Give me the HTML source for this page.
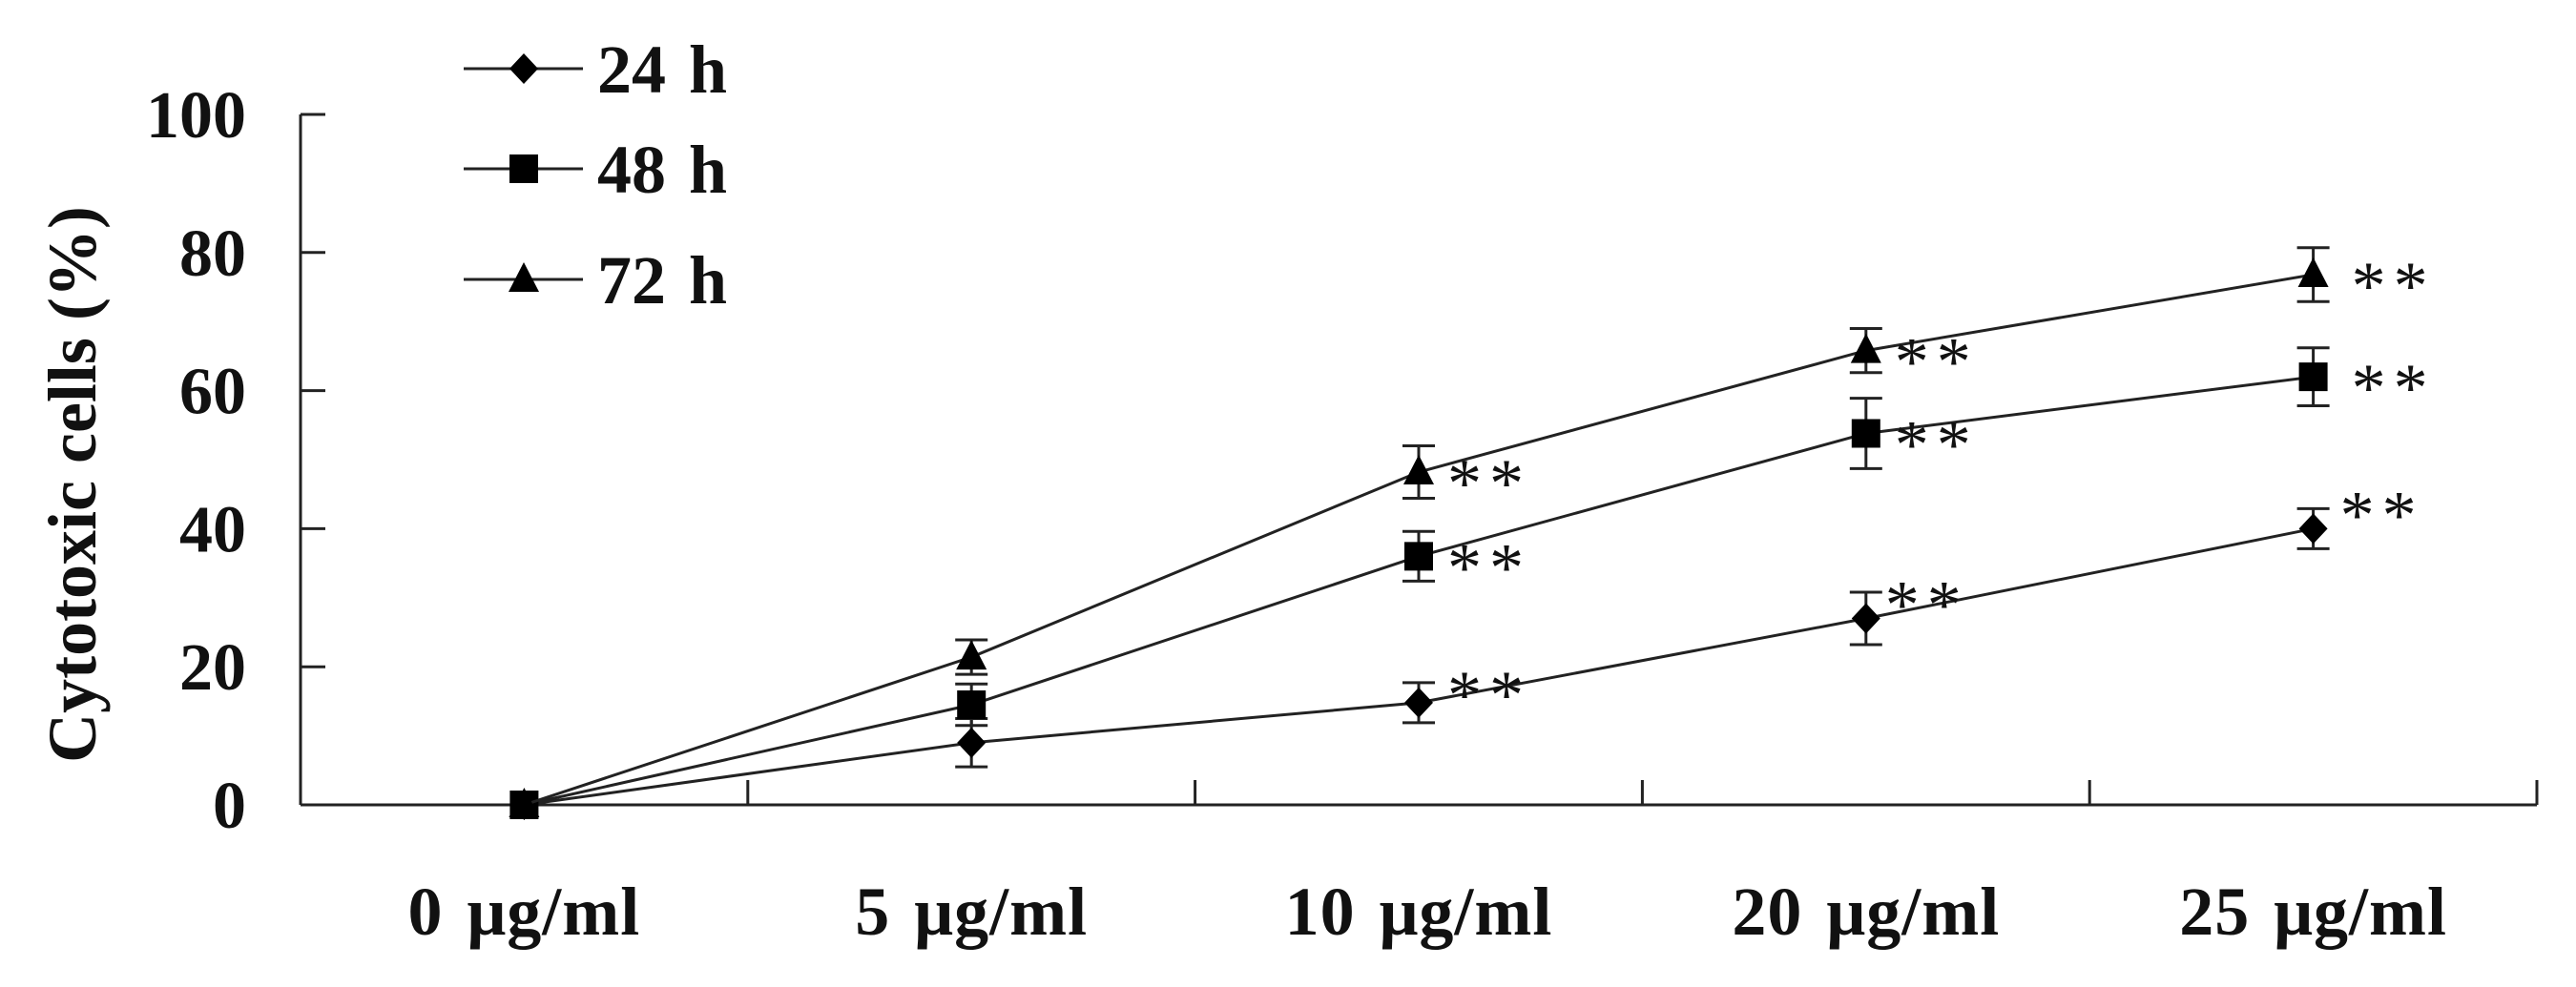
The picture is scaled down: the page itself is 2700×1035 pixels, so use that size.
<!DOCTYPE html>
<html><head><meta charset="utf-8"><style>
html,body{margin:0;padding:0;background:#fff;}
svg{display:block;}
text{font-family:"Liberation Serif",serif;fill:#111;}
</style></head><body>
<svg id="chart" width="2700" height="1035" viewBox="0 0 2700 1035">
<g id="axes"></g>
<g id="series"></g>
<g id="legend"></g>
<text transform="translate(100,508) rotate(-90)" text-anchor="middle" font-size="72" font-weight="bold">Cytotoxic cells (%)</text>
</svg>
<script>
const categories = ["0 μg/ml","5 μg/ml","10 μg/ml","20 μg/ml","25 μg/ml"];
const yTicks = [0,20,40,60,80,100];
const seriesNames = ["24 h","48 h","72 h"];
const v24 = [0,9,14.8,27,40];
const v48 = [0,14.5,36,53.8,62];
const v72 = [0,21.4,48.2,65.8,76.8];
const e24 = [0,3.5,2.9,3.8,2.9];
const e48 = [0,3,3.6,5.1,4.2];
const e72 = [0,2.5,3.8,3.2,3.9];
const sig24 = ["","","**","**","**"];
const sig48 = ["","","**","**","**"];
const sig72 = ["","","**","**","**"];

const NS="http://www.w3.org/2000/svg";
const X0=315,X1=2659,Y0=844,Y1=120;
const bw=(X1-X0)/categories.length;
function xs(i){return X0+bw*(i+0.5);}
function ys(v){return Y0-(v/100)*(Y0-Y1);}
function mk(tag,attrs,parent){const e=document.createElementNS(NS,tag);for(const k in attrs)e.setAttribute(k,attrs[k]);parent.appendChild(e);return e;}
const axes=document.getElementById('axes'),ser=document.getElementById('series'),leg=document.getElementById('legend');

let yl=mk('line',{x1:X0,y1:Y0,x2:X0,y2:Y1,stroke:'#222','stroke-width':3},axes);


let xl=mk('line',{x1:X0,y1:Y0,x2:X1,y2:Y0,stroke:'#222','stroke-width':3},axes);


yTicks.forEach(t=>{
  const y=ys(t);
  const l=mk('line',{x1:X0,y1:y,x2:X0+26,y2:y,stroke:'#222','stroke-width':3},axes);
  
  
  const tx=mk('text',{x:258,y:y+24,'text-anchor':'end','font-size':70,'font-weight':'bold'},axes);
  tx.textContent=t;
  
  
});
for(let i=1;i<=categories.length;i++){
  const x=X0+bw*i;
  const l=mk('line',{x1:x,y1:Y0,x2:x,y2:Y0-26,stroke:'#222','stroke-width':3},axes);
  
  
}
categories.forEach((c,i)=>{
  const tx=mk('text',{x:xs(i),y:980,'text-anchor':'middle','font-size':72,'font-weight':'bold','letter-spacing':1,'word-spacing':6},axes);
  tx.textContent=c;
  
  
});

function marker(type,x,y,parent){
  let m;
  if(type===0) m=mk('polygon',{points:`${x},${y-16} ${x+15},${y} ${x},${y+16} ${x-15},${y}`,fill:'#000'},parent);
  else if(type===1) m=mk('rect',{x:x-15,y:y-15,width:30,height:30,fill:'#000'},parent);
  else m=mk('polygon',{points:`${x},${y-18} ${x+16},${y+13} ${x-16},${y+13}`,fill:'#000'},parent);
  return m;
}
const allV=[v24,v48,v72],allE=[e24,e48,e72],allS=[sig24,sig48,sig72];
allV.forEach((vals,s)=>{
  const g=mk('g',{},ser);
  
  
  const pts=vals.map((v,i)=>xs(i)+','+ys(v)).join(' ');
  const pl=mk('polyline',{points:pts,fill:'none',stroke:'#222','stroke-width':3},g);
  
  
  vals.forEach((v,i)=>{
    const x=xs(i),e=allE[s][i];
    if(e>0){
      const ya=ys(v+e),yb=ys(v-e);
      const eb=mk('path',{d:`M${x},${ya}V${yb}M${x-17},${ya}H${x+17}M${x-17},${yb}H${x+17}`,stroke:'#222','stroke-width':3,fill:'none'},g);
      
      
    }
    const m=marker(s,x,ys(v),g);
    
    
    if(allS[s][i]){
      const up=(s===0&&i>=2)?(i===2?-22:-28):-2;
      const dx=(s===0&&i===3)?20:(s===0&&i===4?28:(i===4?40:30));
      const t=mk('text',{x:x+dx,y:ys(v)+up+38,'font-size':72,'letter-spacing':8,fill:'#333'},g);
      t.textContent=allS[s][i];
      
      
    }
  });
});
const legY=[72,177,293];
seriesNames.forEach((n,s)=>{
  const g=mk('g',{},leg);
  
  
  mk('line',{x1:486,y1:legY[s],x2:611,y2:legY[s],stroke:'#222','stroke-width':3},g);
  marker(s,549,legY[s],g);
  const t=mk('text',{x:626,y:legY[s]+25,'font-size':72,'font-weight':'bold','word-spacing':6},g);
  t.textContent=n;
});
</script>
</body></html>
